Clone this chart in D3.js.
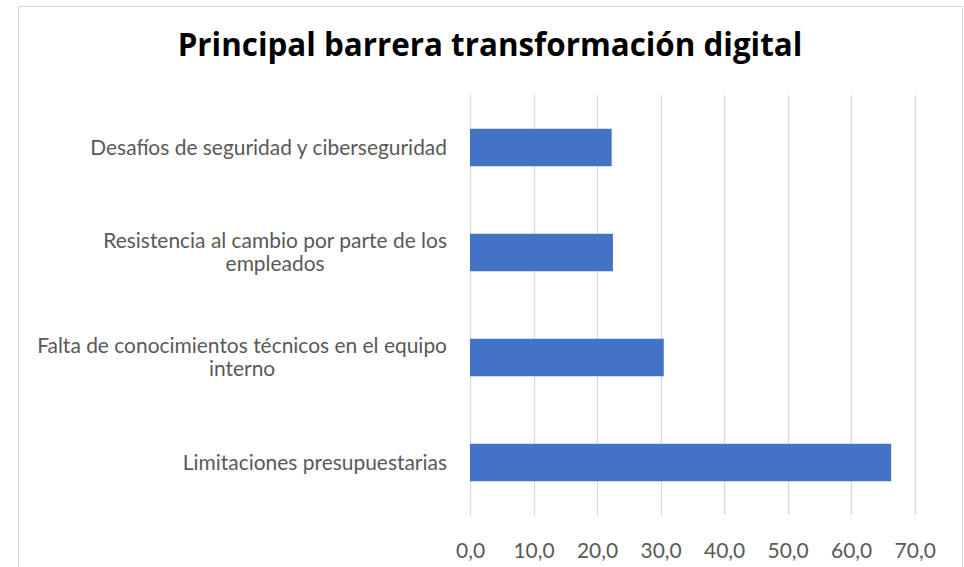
<!DOCTYPE html>
<html>
<head>
<meta charset="utf-8">
<script src="https://cdn.jsdelivr.net/npm/d3@7"></script>
<style>
  body { margin: 0; background: #fff; }
  svg { display: block; }
</style>
</head>
<body>
<div id="vis"></div>
<script>
// data, top to bottom as drawn
const categories = [
  "Desafíos de seguridad y ciberseguridad",
  "Resistencia al cambio por parte de los empleados",
  "Falta de conocimientos técnicos en el equipo interno",
  "Limitaciones presupuestarias"
];
const values = [22.3, 22.5, 30.5, 66.3];
const tickValues = [0, 10, 20, 30, 40, 50, 60, 70];
const title = "Principal barrera transformación digital";

const width = 964, height = 567;
const margin = { top: 95, right: 49, bottom: 52, left: 470 };
const bar_color = "#4472C4";
const grid_color = "#d9d9d9";
const text_color = "#595959";
const label_font = "Lato, 'Open Sans', sans-serif";

var svg = d3.select("#vis")
  .append("svg")
  .attr("width", width)
  .attr("height", height);

// chart border
svg.append("rect")
  .attr("x", 18.5)
  .attr("y", 6.5)
  .attr("width", 944)
  .attr("height", 580)
  .attr("fill", "#fff")
  .attr("stroke", grid_color)
  .attr("stroke-width", 1);

// title, sized so it spans about the same width as the original
var titleText = svg.append("text")
  .attr("x", 490)
  .attr("y", 56)
  .attr("text-anchor", "middle")
  .attr("font-family", "'Open Sans', sans-serif")
  .attr("font-weight", "bold")
  .attr("font-size", 28)
  .attr("fill", "#000")
  .text(title);
var tw = titleText.node().getComputedTextLength();
titleText.attr("font-size", 28 * 625 / tw);

// label font size: fit the first label to the original width
var probe = svg.append("text")
  .attr("font-family", label_font)
  .attr("font-size", 16)
  .text(categories[0]);
const label_size = 16 * 357 / probe.node().getComputedTextLength();
probe.remove();

var x = d3.scaleLinear()
  .domain([0, 70])
  .range([margin.left, width - margin.right - 0.3]);

var y = d3.scaleBand()
  .domain(categories)
  .range([margin.top, height - margin.bottom])
  .paddingInner(0.643)
  .paddingOuter(0.3215);

// gridlines
svg.append("g")
  .selectAll("line")
  .data(tickValues)
  .enter()
  .append("line")
  .attr("x1", d => Math.round(x(d)) + 0.5)
  .attr("x2", d => Math.round(x(d)) + 0.5)
  .attr("y1", margin.top)
  .attr("y2", height - margin.bottom)
  .attr("stroke", grid_color)
  .attr("stroke-width", 1.3);

// bars
svg.append("g")
  .selectAll("rect")
  .data(categories)
  .enter()
  .append("rect")
  .attr("x", x(0))
  .attr("y", d => y(d))
  .attr("width", (d, i) => x(values[i]) - x(0))
  .attr("height", y.bandwidth())
  .attr("fill", bar_color);

// x axis labels
var xAxis = svg.append("g")
  .attr("transform", "translate(0," + (height - margin.bottom) + ")")
  .call(d3.axisBottom(x)
    .tickValues(tickValues)
    .tickSize(0)
    .tickPadding(28)
    .tickFormat(d => d3.format(".1f")(d).replace(".", ",")));
xAxis.select(".domain").remove();
xAxis.selectAll("text")
  .attr("font-family", label_font)
  .attr("font-size", label_size)
  .attr("fill", text_color);

// category labels, wrapped and centred per line like Excel
const label_right = 447;
const wrap_width = 436;
var labels = svg.append("g");
categories.forEach(function (c) {
  var t = labels.append("text")
    .attr("font-family", label_font)
    .attr("font-size", label_size)
    .attr("fill", text_color);
  var words = c.split(" "), lines = [], line = [];
  words.forEach(function (w) {
    line.push(w);
    t.text(line.join(" "));
    if (t.node().getComputedTextLength() > wrap_width && line.length > 1) {
      line.pop();
      lines.push(line.join(" "));
      line = [w];
    }
  });
  lines.push(line.join(" "));
  var widths = lines.map(function (l) {
    t.text(l);
    return t.node().getComputedTextLength();
  });
  t.text(null);
  var maxw = d3.max(widths);
  var cx = label_right - maxw / 2;
  var lh = 23;
  var cy = y(c) + y.bandwidth() / 2 - (lines.length - 1) * lh / 2;
  lines.forEach(function (l, i) {
    t.append("tspan")
      .attr("x", cx)
      .attr("y", cy + i * lh)
      .attr("dy", "0.35em")
      .attr("text-anchor", "middle")
      .text(l);
  });
});
</script>
</body>
</html>
